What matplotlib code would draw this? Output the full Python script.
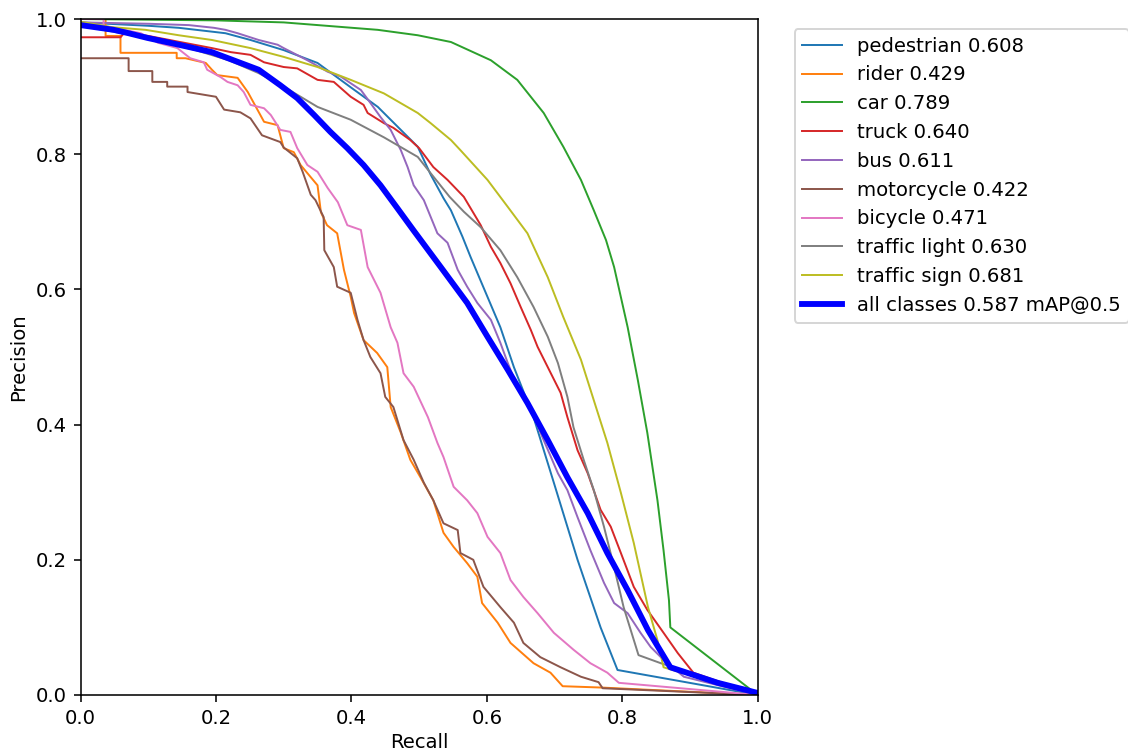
import matplotlib
matplotlib.use("Agg")
import matplotlib.pyplot as plt

# --- courbes precision / recall ---
names = ['pedestrian', 'rider', 'car', 'truck', 'bus', 'motorcycle',
         'bicycle', 'traffic light', 'traffic sign']
ap = [0.608, 0.429, 0.789, 0.640, 0.611, 0.422, 0.471, 0.630, 0.681]
map50 = 0.587

pedestrian_r = [0, 0.1, 0.145, 0.214, 0.251, 0.3, 0.35, 0.399, 0.439, 0.458, 0.498, 0.517,
                0.536, 0.547, 0.564, 0.576, 0.62, 0.64, 0.669, 0.699, 0.734, 0.768, 0.793, 1.0]
pedestrian_p = [0.995, 0.99, 0.987, 0.979, 0.969, 0.954, 0.935, 0.899, 0.87, 0.851, 0.811, 0.77,
                0.735, 0.717, 0.678, 0.648, 0.544, 0.485, 0.411, 0.314, 0.2, 0.1, 0.037, 0.0]

rider_r = [0, 0.037, 0.037, 0.059, 0.059, 0.142, 0.142, 0.155, 0.185, 0.194, 0.202, 0.232, 0.247,
           0.271, 0.291, 0.30, 0.315, 0.325, 0.35, 0.355, 0.364, 0.379, 0.389, 0.399, 0.404, 0.418,
           0.438, 0.453, 0.458, 0.473, 0.487, 0.502, 0.521, 0.536, 0.551, 0.571, 0.586, 0.593,
           0.616, 0.635, 0.669, 0.694, 0.712, 0.77, 1.0]
rider_p = [1.0, 1.0, 0.975, 0.975, 0.95, 0.95, 0.942, 0.942, 0.935, 0.925, 0.917, 0.913, 0.892,
           0.848, 0.843, 0.809, 0.803, 0.784, 0.754, 0.714, 0.695, 0.683, 0.629, 0.589, 0.565, 0.525,
           0.506, 0.485, 0.426, 0.388, 0.348, 0.322, 0.288, 0.24, 0.219, 0.195, 0.175, 0.136,
           0.107, 0.077, 0.047, 0.033, 0.013, 0.011, 0.0]

car_r = [0, 0.2, 0.3, 0.439, 0.498, 0.547, 0.606, 0.645, 0.684, 0.713, 0.739, 0.758, 0.776,
         0.788, 0.808, 0.823, 0.837, 0.852, 0.861, 0.869, 0.871, 1.0]
car_p = [1.0, 0.998, 0.995, 0.984, 0.976, 0.966, 0.939, 0.91, 0.861, 0.811, 0.762, 0.717, 0.673,
         0.633, 0.544, 0.466, 0.388, 0.288, 0.214, 0.14, 0.10, 0.0]

truck_r = [0, 0.059, 0.065, 0.1, 0.194, 0.222, 0.251, 0.271, 0.3, 0.32, 0.35, 0.374, 0.399, 0.418,
           0.424, 0.448, 0.462, 0.487, 0.5, 0.521, 0.542, 0.566, 0.591, 0.606, 0.62, 0.635, 0.65,
           0.665, 0.675, 0.69, 0.709, 0.719, 0.734, 0.749, 0.768, 0.783, 0.798, 0.817, 0.837,
           0.861, 0.882, 0.905, 1.0]
truck_p = [0.973, 0.973, 0.98, 0.975, 0.957, 0.951, 0.947, 0.936, 0.929, 0.927, 0.91, 0.907, 0.885,
           0.873, 0.861, 0.846, 0.839, 0.821, 0.809, 0.781, 0.762, 0.737, 0.695, 0.663, 0.639,
           0.609, 0.574, 0.54, 0.515, 0.485, 0.447, 0.411, 0.362, 0.328, 0.274, 0.249, 0.21, 0.16,
           0.126, 0.092, 0.062, 0.033, 0.0]

bus_r = [0, 0.1, 0.16, 0.197, 0.214, 0.232, 0.263, 0.291, 0.3, 0.335, 0.365, 0.384, 0.414, 0.428,
         0.443, 0.458, 0.473, 0.483, 0.492, 0.507, 0.527, 0.542, 0.557, 0.571, 0.586, 0.606, 0.62,
         0.631, 0.645, 0.665, 0.684, 0.705, 0.719, 0.734, 0.753, 0.773, 0.788, 0.808, 0.827,
         0.842, 0.861, 0.891, 1.0]
bus_p = [0.995, 0.993, 0.991, 0.987, 0.984, 0.979, 0.969, 0.962, 0.957, 0.939, 0.922, 0.915, 0.895,
         0.876, 0.855, 0.836, 0.806, 0.781, 0.754, 0.732, 0.683, 0.669, 0.629, 0.604, 0.58, 0.555,
         0.521, 0.491, 0.456, 0.422, 0.377, 0.328, 0.303, 0.263, 0.214, 0.166, 0.136, 0.121,
         0.092, 0.071, 0.052, 0.027, 0.0]

motorcycle_r = [0, 0.071, 0.071, 0.106, 0.106, 0.128, 0.128, 0.158, 0.158, 0.2, 0.212, 0.236,
                0.251, 0.268, 0.295, 0.30, 0.32, 0.328, 0.34, 0.347, 0.359, 0.36, 0.374, 0.379,
                0.399, 0.409, 0.418, 0.428, 0.443, 0.45, 0.462, 0.477, 0.492, 0.507, 0.521, 0.536,
                0.557, 0.561, 0.58, 0.595, 0.62, 0.64, 0.654, 0.679, 0.709, 0.739, 0.765, 0.771, 1.0]
motorcycle_p = [0.942, 0.942, 0.923, 0.923, 0.907, 0.907, 0.90, 0.90, 0.892, 0.885, 0.866, 0.862,
                0.853, 0.828, 0.818, 0.81, 0.794, 0.774, 0.74, 0.732, 0.707, 0.658, 0.633, 0.604,
                0.595, 0.555, 0.525, 0.50, 0.476, 0.441, 0.426, 0.377, 0.348, 0.314, 0.288, 0.254,
                0.244, 0.21, 0.20, 0.16, 0.13, 0.107, 0.077, 0.056, 0.041, 0.027, 0.019, 0.010, 0.0]

bicycle_r = [0, 0.034, 0.034, 0.089, 0.114, 0.143, 0.162, 0.182, 0.187, 0.207, 0.217, 0.232, 0.241,
             0.251, 0.271, 0.281, 0.295, 0.31, 0.32, 0.335, 0.35, 0.365, 0.38, 0.394, 0.414, 0.424,
             0.443, 0.458, 0.468, 0.477, 0.492, 0.513, 0.527, 0.536, 0.551, 0.571, 0.586, 0.601,
             0.62, 0.635, 0.654, 0.675, 0.699, 0.728, 0.753, 0.778, 0.795, 1.0]
bicycle_p = [1.0, 1.0, 0.99, 0.979, 0.965, 0.957, 0.942, 0.936, 0.925, 0.914, 0.907, 0.902, 0.892,
             0.873, 0.868, 0.858, 0.836, 0.833, 0.809, 0.784, 0.774, 0.75, 0.729, 0.695, 0.688,
             0.633, 0.595, 0.544, 0.521, 0.476, 0.456, 0.411, 0.373, 0.352, 0.308, 0.288, 0.269,
             0.234, 0.21, 0.17, 0.145, 0.121, 0.092, 0.067, 0.047, 0.033, 0.018, 0.0]

traffic_light_r = [0, 0.1, 0.17, 0.219, 0.263, 0.30, 0.35, 0.399, 0.448, 0.498, 0.517, 0.545,
                   0.566, 0.591, 0.62, 0.645, 0.669, 0.69, 0.705, 0.719, 0.728, 0.743, 0.758, 0.773,
                   0.788, 0.802, 0.824, 0.857, 1.0]
traffic_light_p = [0.99, 0.972, 0.954, 0.939, 0.92, 0.90, 0.87, 0.851, 0.825, 0.796, 0.772, 0.737,
                   0.715, 0.692, 0.658, 0.618, 0.574, 0.53, 0.491, 0.441, 0.396, 0.348, 0.303, 0.249,
                   0.189, 0.13, 0.059, 0.047, 0.0]

traffic_sign_r = [0, 0.046, 0.096, 0.145, 0.194, 0.251, 0.30, 0.35, 0.399, 0.448, 0.498, 0.517,
                  0.547, 0.561, 0.601, 0.631, 0.66, 0.69, 0.713, 0.739, 0.758, 0.778, 0.798, 0.817,
                  0.838, 0.852, 0.861, 1.0]
traffic_sign_p = [0.996, 0.988, 0.984, 0.976, 0.969, 0.957, 0.944, 0.929, 0.91, 0.89, 0.861, 0.846,
                  0.821, 0.806, 0.762, 0.722, 0.683, 0.618, 0.559, 0.496, 0.436, 0.373, 0.299, 0.225,
                  0.13, 0.081, 0.041, 0.0]

all_r = [0, 0.049, 0.071, 0.099, 0.145, 0.194, 0.263, 0.295, 0.32, 0.345, 0.369, 0.394, 0.418,
         0.443, 0.468, 0.492, 0.532, 0.571, 0.601, 0.631, 0.66, 0.69, 0.719, 0.749, 0.778, 0.808,
         0.838, 0.871, 0.941, 1.0]
all_p = [0.991, 0.984, 0.979, 0.972, 0.962, 0.951, 0.925, 0.902, 0.883, 0.858, 0.833, 0.809, 0.784,
         0.754, 0.72, 0.687, 0.633, 0.58, 0.53, 0.481, 0.432, 0.377, 0.322, 0.269, 0.21, 0.155,
         0.096, 0.041, 0.018, 0.003]

curves = [(pedestrian_r, pedestrian_p), (rider_r, rider_p), (car_r, car_p), (truck_r, truck_p),
          (bus_r, bus_p), (motorcycle_r, motorcycle_p), (bicycle_r, bicycle_p),
          (traffic_light_r, traffic_light_p), (traffic_sign_r, traffic_sign_p)]

# === figure ===
fig = plt.figure(figsize=(8, 752 / 141), dpi=141)
ax = fig.add_axes([0.0714, 0.0758, 0.6003, 0.8989])

for (r, p), name, a in zip(curves, names, ap):
    ax.plot(r, p, linewidth=1, label=f'{name} {a:.3f}')

ax.plot(all_r, all_p, linewidth=3, color='blue', label=f'all classes {map50:.3f} mAP@0.5')

ax.set_xlabel('Recall', labelpad=2.5)
ax.set_ylabel('Precision')
ax.set_xlim(0, 1)
ax.set_ylim(0, 1)
ax.legend(bbox_to_anchor=(1.04, 1), loc='upper left')

fig.savefig('out.png', dpi=141)
